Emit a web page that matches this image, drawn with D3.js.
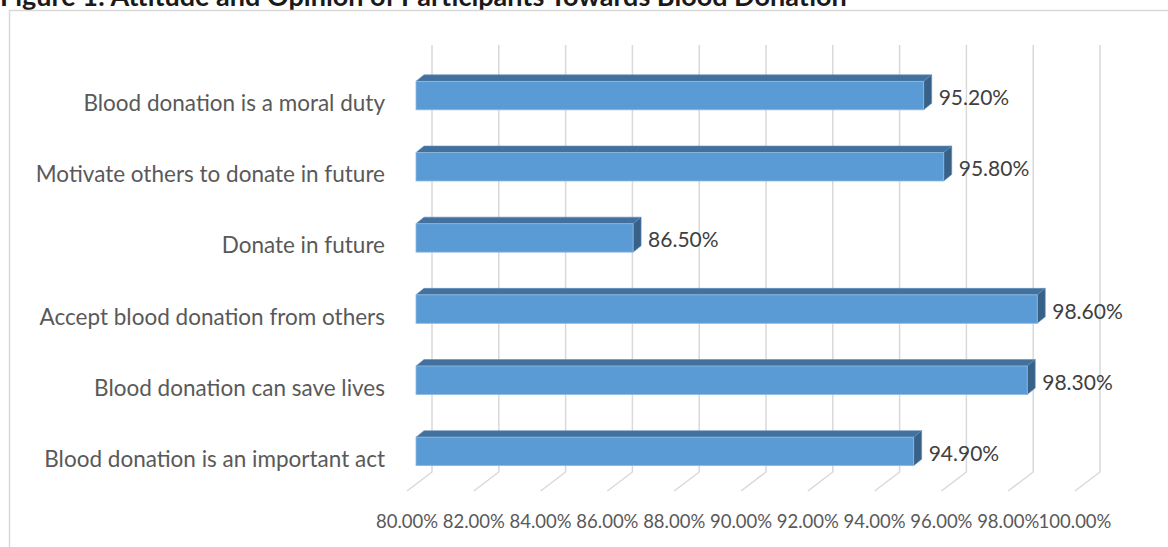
<!DOCTYPE html>
<html>
<head>
<meta charset="utf-8">
<script src="https://cdn.jsdelivr.net/npm/d3@7"></script>
<style>
  body { margin: 0; background: #fff; }
  svg { display: block; font-family: Lato, "Open Sans", sans-serif; }
</style>
</head>
<body>
<svg id="chart" width="1168" height="547"></svg>
<script>
const categories = [
  "Blood donation is a moral duty",
  "Motivate others to donate in future",
  "Donate in future",
  "Accept blood donation from others",
  "Blood donation can save lives",
  "Blood donation is an important act"
];
const values = [95.2, 95.8, 86.5, 98.6, 98.3, 94.9];
const ticks = [80, 82, 84, 86, 88, 90, 92, 94, 96, 98, 100];

const svg = d3.select("#chart");

// depth offsets of the fake 3d box, relative to the bar front plane
const wallDx = 16, wallDy = -12;
const floorDx = -9, floorDy = 7;
const barDx = 8, barDy = -6.5;
const wallTop = 45, wallBottom = 472;

const x = d3.scaleLinear().domain([80, 100]).range([416, 1084]);
const y = d3.scaleBand().domain(categories).range([60, 487])
  .paddingInner(0.6).paddingOuter(0.3);

// title (partly cut off at the top like the source)
svg.append("text")
  .attr("x", 0)
  .attr("y", 6)
  .attr("font-weight", "bold")
  .attr("font-size", 27)
  .attr("fill", "#1a1a1a")
  .text("Figure 1: Attitude and Opinion of Participants Towards Blood Donation");

// chart frame
svg.append("rect")
  .attr("x", 9.5).attr("y", 10.5)
  .attr("width", 1200).attr("height", 600)
  .attr("fill", "#fff")
  .attr("stroke", "#d9d9d9")
  .attr("stroke-width", 1.5);

// gridlines: back wall + floor
const grid = svg.append("g").attr("class", "grid");
grid.selectAll("path")
  .data(ticks)
  .enter().append("path")
  .attr("d", d => {
    const xw = x(d) + wallDx;
    return d3.line()([[xw, wallTop], [xw, wallBottom], [x(d) + floorDx, wallBottom - wallDy + floorDy]]);
  })
  .attr("fill", "none")
  .attr("stroke", "#d9d9d9")
  .attr("stroke-width", 1.5);

// tick labels
svg.append("g").selectAll("text")
  .data(ticks)
  .enter().append("text")
  .attr("x", d => x(d) + floorDx)
  .attr("y", 521)
  .attr("text-anchor", "middle")
  .attr("dominant-baseline", "central")
  .attr("font-size", 18.5)
  .attr("fill", "#595959")
  .text(d => d.toFixed(2) + "%");

// bars
const bars = svg.append("g").selectAll("g")
  .data(categories)
  .enter().append("g");

bars.append("path") // top face
  .attr("d", (c, i) => {
    const x0 = x(80), x1 = x(values[i]), t = y(c);
    return d3.line()([[x0, t], [x0 + barDx, t + barDy], [x1 + barDx, t + barDy], [x1, t]]) + "Z";
  })
  .attr("fill", "#41719c")
  .attr("stroke", "#5f8fbf")
  .attr("stroke-width", 0.6);

bars.append("path") // side face
  .attr("d", (c, i) => {
    const x1 = x(values[i]), t = y(c), b = t + y.bandwidth();
    return d3.line()([[x1, t], [x1 + barDx, t + barDy], [x1 + barDx, b + barDy], [x1, b]]) + "Z";
  })
  .attr("fill", "#386188")
  .attr("stroke", "#5f8fbf")
  .attr("stroke-width", 0.6);

bars.append("rect") // front face
  .attr("x", x(80))
  .attr("y", c => y(c))
  .attr("width", (c, i) => x(values[i]) - x(80))
  .attr("height", y.bandwidth())
  .attr("fill", "#5b9bd5")
  .attr("stroke", "#8fb8e2")
  .attr("stroke-width", 0.8);

// value labels
bars.append("text")
  .attr("x", (c, i) => x(values[i]) + 15)
  .attr("y", c => y(c) + y.bandwidth() / 2 + 1)
  .attr("dominant-baseline", "central")
  .attr("font-size", 21)
  .attr("fill", "#404040")
  .text((c, i) => values[i].toFixed(2) + "%");

// category labels
svg.append("g").selectAll("text")
  .data(categories)
  .enter().append("text")
  .attr("x", 385)
  .attr("y", c => y(c) + y.bandwidth() / 2 + 7)
  .attr("text-anchor", "end")
  .attr("dominant-baseline", "central")
  .attr("font-size", 22.5)
  .attr("fill", "#595959")
  .text(c => c);
</script>
</body>
</html>
